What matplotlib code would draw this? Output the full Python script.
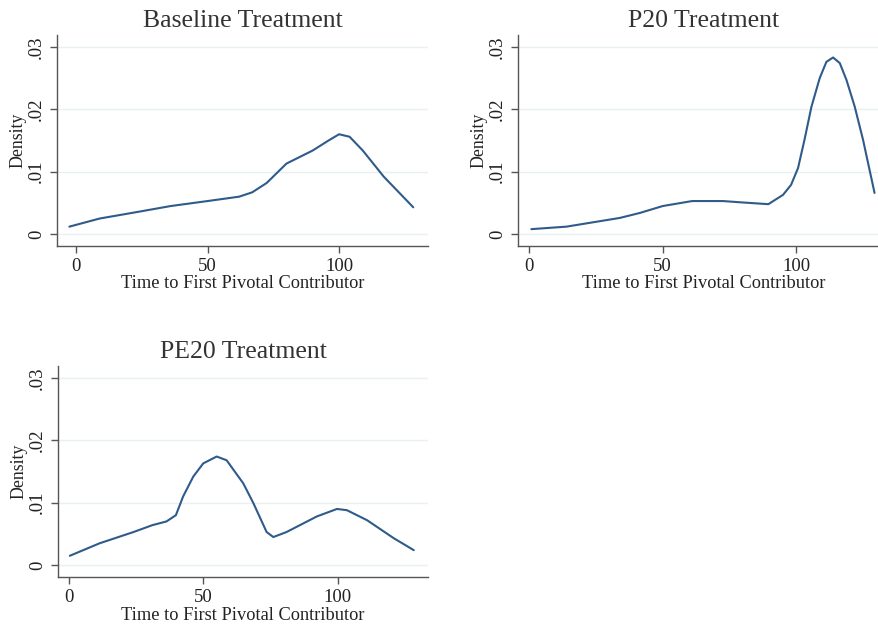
import matplotlib.pyplot as plt
import numpy as np

# kernel density curves
base_x = [-2.5, 9, 24, 36, 50, 62, 67, 72.5, 80, 90, 96, 100, 104, 109, 117, 128.2]
base_y = [0.0012, 0.0025, 0.0036, 0.0045, 0.0053, 0.0060, 0.0067, 0.0082, 0.0113, 0.0134, 0.0150, 0.0160, 0.0156, 0.0134, 0.0092, 0.0043]

p20_x = [0.9, 14, 34, 41.5, 50, 61, 72.5, 79, 89.5, 95, 98, 100.6, 103, 105.6, 108.7, 111.2, 113.7, 116.2, 118.7, 121.8, 124.9, 129.2]
p20_y = [0.0008, 0.0012, 0.0026, 0.0034, 0.0045, 0.0053, 0.0053, 0.0051, 0.0048, 0.0063, 0.0079, 0.0106, 0.0151, 0.0204, 0.0250, 0.0276, 0.0283, 0.0274, 0.0247, 0.0204, 0.0151, 0.0066]

pe20_x = [0.3, 11.4, 24, 31, 36.3, 39.8, 42.5, 46.3, 50, 55, 58.7, 64.9, 68.7, 73.6, 76.1, 81, 92.3, 99.8, 103.5, 111, 121, 128.4]
pe20_y = [0.0015, 0.0035, 0.0053, 0.0064, 0.0070, 0.0080, 0.0110, 0.0142, 0.0163, 0.0174, 0.0168, 0.0131, 0.0099, 0.0053, 0.0045, 0.0053, 0.0078, 0.0090, 0.0088, 0.0072, 0.0043, 0.0024]

titles = ['Baseline Treatment', 'P20 Treatment', 'PE20 Treatment']
yticks = [0, 0.01, 0.02, 0.03]
ytick_labels = ['0', '.01', '.02', '.03']
xticks = [0, 50, 100]

plt.rcParams['font.family'] = ['Liberation Serif', 'DejaVu Serif']

W, H = 879, 625
fig = plt.figure(figsize=(W / 100, H / 100), dpi=100)

def px_axes(left, top, right, bottom):
    return fig.add_axes([left / W, 1 - bottom / H, (right - left) / W, (bottom - top) / H])

panels = [
    (px_axes(57, 35, 428, 246), base_x, base_y, titles[0], (-7.2, 133.8)),
    (px_axes(518, 35, 889, 246), p20_x, p20_y, titles[1], (-4.1, 134.6)),
    (px_axes(58, 366, 428, 577), pe20_x, pe20_y, titles[2], (-4.1, 133.7)),
]

line_color = '#2f5b8a'
for ax, xs, ys, title, xlim in panels:
    ax.plot(xs, ys, color=line_color, linewidth=1.5, solid_capstyle='round')
    ax.set_xlim(*xlim)
    ax.set_ylim(-0.0019, 0.0319)
    ax.set_yticks(yticks)
    ax.set_yticklabels(ytick_labels, rotation=90, va='center')
    ax.set_xticks(xticks)
    ax.grid(axis='y', color='#e8f0f2', linewidth=1.0)
    ax.set_axisbelow(True)
    for side in ['top', 'right']:
        ax.spines[side].set_visible(False)
    for side in ['left', 'bottom']:
        ax.spines[side].set_color('#555555')
        ax.spines[side].set_linewidth(1.0)
    ax.tick_params(colors='#555555', labelcolor='#222222', labelsize=13.5, length=5, width=1.0, direction='out')
    ax.tick_params(axis='x', pad=4)
    ax.set_title(title, fontsize=18.5, color='#333333', pad=6)
    ax.set_xlabel('Time to First Pivotal Contributor', fontsize=13.2, color='#222222', labelpad=0)
    ax.set_ylabel('Density', fontsize=12.8, color='#222222', labelpad=1)

fig.savefig('out.png', dpi=100)
